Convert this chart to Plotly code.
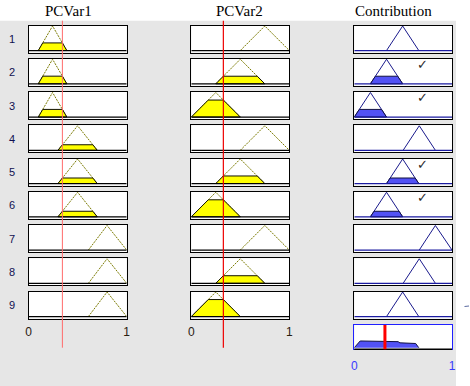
import numpy as np
import plotly.graph_objects as go

W, H = 470, 386

titles = ["PCVar1", "PCVar2", "Contribution"]
rule_labels = [str(i) for i in range(1, 10)]
input_values = [0.345, 0.327]

var1_mfs = {"low": [0.10, 0.245, 0.39], "mid": [0.30, 0.50, 0.70], "high": [0.61, 0.80, 1.00]}
var2_mfs = {"low": [0.00, 0.25, 0.50], "mid": [0.25, 0.50, 0.75], "high": [0.50, 0.75, 1.00]}
out_mfs = {"o1": [0.00, 0.165, 0.33], "o2": [0.165, 0.33, 0.495], "o3": [0.33, 0.495, 0.66],
           "o4": [0.50, 0.665, 0.83], "o5": [0.665, 0.83, 1.00]}

rule_var1 = ["low", "low", "low", "mid", "mid", "mid", "high", "high", "high"]
rule_var2 = ["high", "mid", "low", "high", "mid", "low", "high", "mid", "low"]
rule_out = ["o3", "o2", "o1", "o4", "o3", "o2", "o5", "o4", "o3"]
tick_vals = [0, 1]
tick_text = ["0", "1"]

# ---- styling / layout geometry (pixels) ----
cols_px = [(28.5, 126.7), (191.3, 289.3), (354.3, 452.0)]
row_top0, row_pitch, row_h = 25.5, 33.25, 27.0
agg_top, agg_bot = 325.0, 349.3
YR = [-0.08, 1.02]
YR_AGG = [-0.075, 1.05]


def trimf(x, p):
    a, b, c = p
    x = np.asarray(x, dtype=float)
    left = np.where(b > a, (x - a) / (b - a if b > a else 1), 1.0)
    right = np.where(c > b, (c - x) / (c - b if c > b else 1), 1.0)
    return np.clip(np.minimum(left, right), 0, 1)


def clipped_poly(p, mu):
    a, b, c = p
    xs = [a, a + mu * (b - a), c - mu * (c - b), c, a]
    ys = [0, mu, mu, 0, 0]
    return xs, ys


def xdom(c):
    return [cols_px[c][0] / W, cols_px[c][1] / W]


def ydom(top, bot):
    return [1 - bot / H, 1 - top / H]


def ax_name(k):
    return "" if k == 1 else str(k)


fig = go.Figure()
layout_axes = {}

mu1 = {k: float(trimf(input_values[0], v)) for k, v in var1_mfs.items()}
mu2 = {k: float(trimf(input_values[1], v)) for k, v in var2_mfs.items()}
firing = [min(mu1[a], mu2[b]) for a, b in zip(rule_var1, rule_var2)]

annotations = []
shapes = [
    dict(type="rect", xref="paper", yref="paper", x0=0, x1=1, y0=1 - 20.7 / H, y1=1,
         fillcolor="white", line=dict(width=0), layer="below"),
    dict(type="rect", xref="paper", yref="paper", x0=456 / W, x1=1, y0=0, y1=1,
         fillcolor="white", line=dict(width=0), layer="below"),
]

for r in range(9):
    top = row_top0 + row_pitch * r
    bot = top + row_h
    for c in range(3):
        k = r * 3 + c + 1
        xa, ya = "x" + ax_name(k), "y" + ax_name(k)
        show_ticks = (r == 8 and c < 2)
        layout_axes["xaxis" + ax_name(k)] = dict(
            domain=xdom(c), range=[0, 1], anchor=ya, showgrid=False, zeroline=False,
            showline=True, mirror=True, linecolor="black", linewidth=1, automargin=False,
            showticklabels=show_ticks, tickvals=tick_vals, ticktext=tick_text, ticks="",
            ticklabelstandoff=2,
            tickfont=dict(family="Liberation Sans, Arial", size=12, color="#2a2010"),
            fixedrange=True)
        layout_axes["yaxis" + ax_name(k)] = dict(
            domain=ydom(top, bot), range=YR, anchor=xa, showgrid=False, zeroline=False,
            showline=True, mirror=True, linecolor="black", linewidth=1, automargin=False,
            showticklabels=False, fixedrange=True)

        if c < 2:
            mfs = var1_mfs if c == 0 else var2_mfs
            name = rule_var1[r] if c == 0 else rule_var2[r]
            mu = (mu1 if c == 0 else mu2)[name]
            p = mfs[name]
            fig.add_trace(go.Scatter(x=[p[0], p[1], p[2]], y=[0, 1, 0], mode="lines",
                                     line=dict(color="#7a7a00", width=1, dash="2px,1px"),
                                     xaxis=xa, yaxis=ya, hoverinfo="skip"))
            if mu > 0:
                px_, py_ = clipped_poly(p, mu)
                fig.add_trace(go.Scatter(x=px_, y=py_, mode="lines", fill="toself",
                                         fillcolor="#ffff00", line=dict(color="#111100", width=1),
                                         xaxis=xa, yaxis=ya, hoverinfo="skip"))
            fig.add_trace(go.Scatter(x=[0, 1], y=[0, 0], mode="lines",
                                     line=dict(color="black", width=1.3),
                                     xaxis=xa, yaxis=ya, hoverinfo="skip"))
        else:
            p = out_mfs[rule_out[r]]
            mu = firing[r]
            fig.add_trace(go.Scatter(x=[p[0], p[1], p[2]], y=[0, 1, 0], mode="lines",
                                     line=dict(color="#1a1a8c", width=1),
                                     xaxis=xa, yaxis=ya, hoverinfo="skip"))
            if mu > 0:
                px_, py_ = clipped_poly(p, mu)
                fig.add_trace(go.Scatter(x=px_, y=py_, mode="lines", fill="toself",
                                         fillcolor="#5252f5", line=dict(color="#101040", width=1),
                                         xaxis=xa, yaxis=ya, hoverinfo="skip"))
                annotations.append(dict(x=0.7, y=0.78, xref=xa, yref=ya, text="✓",
                                        xanchor="center", yanchor="middle", showarrow=False,
                                        font=dict(family="DejaVu Sans", size=13, color="#2a2a2a")))
            fig.add_trace(go.Scatter(x=[0, 1], y=[0, 0], mode="lines",
                                     line=dict(color="#1a1aa0", width=1.3),
                                     xaxis=xa, yaxis=ya, hoverinfo="skip"))

    annotations.append(dict(x=11.5 / W, y=1 - (top + bot) / 2 / H, xref="paper", yref="paper",
                            text=rule_labels[r], showarrow=False, xanchor="center",
                            yanchor="middle",
                            font=dict(family="Liberation Sans, Arial", size=11, color="#101050")))

# aggregated output
xa, ya = "x28", "y28"
layout_axes["xaxis28"] = dict(domain=xdom(2), range=[0, 1], anchor=ya, showgrid=False,
                              zeroline=False, showline=True, mirror=True, linecolor="#2020ff",
                              linewidth=1, showticklabels=True, tickvals=tick_vals,
                              ticktext=tick_text, ticks="", ticklabelstandoff=5, automargin=False,
                              tickfont=dict(family="Liberation Sans, Arial", size=12, color="#3a3aff"),
                              fixedrange=True)
layout_axes["yaxis28"] = dict(domain=ydom(agg_top, agg_bot), range=YR_AGG, anchor=xa,
                              showgrid=False, zeroline=False, showline=True, mirror=True,
                              linecolor="#2020ff", linewidth=1, showticklabels=False,
                              automargin=False, fixedrange=True)
grid = np.linspace(0, 1, 1001)
agg = np.zeros_like(grid)
for r in range(9):
    if firing[r] > 0:
        agg = np.maximum(agg, np.minimum(trimf(grid, out_mfs[rule_out[r]]), firing[r]))
nz = np.nonzero(agg > 0)[0]
i0, i1 = max(nz[0] - 1, 0), min(nz[-1] + 1, len(grid) - 1)
fig.add_trace(go.Scatter(x=grid[i0:i1 + 1], y=agg[i0:i1 + 1], mode="lines", fill="tozeroy",
                         fillcolor="#5252f5", line=dict(color="#101040", width=1),
                         xaxis=xa, yaxis=ya, hoverinfo="skip"))
centroid = float(np.sum(grid * agg) / np.sum(agg))
shapes.append(dict(type="line", xref="x28 domain", yref="y28 domain", x0=0, x1=1, y0=0, y1=0,
                   line=dict(color="black", width=1.5)))
shapes.append(dict(type="line", xref=xa, yref="y28 domain", x0=centroid, x1=centroid, y0=0, y1=1,
                   line=dict(color="#ff0000", width=3)))

# input indicator lines
shapes.append(dict(type="line", xref="x", yref="paper", x0=input_values[0], x1=input_values[0],
                   y0=1 - 347.7 / H, y1=1 - 20.7 / H, line=dict(color="#ff6a6a", width=1)))
shapes.append(dict(type="line", xref="x2", yref="paper", x0=input_values[1], x1=input_values[1],
                   y0=1 - 347.7 / H, y1=1 - 20.7 / H, line=dict(color="#ee0000", width=1.2)))
# small stray mark at right
shapes.append(dict(type="line", xref="paper", yref="paper", x0=464.5 / W, x1=469 / W,
                   y0=1 - 306.5 / H, y1=1 - 306.0 / H, line=dict(color="#5a6aa0", width=1)))

title_x = [68, 239, 393]
for t, xc in zip(titles, title_x):
    annotations.append(dict(x=xc / W, y=1 - 11.5 / H, xref="paper", yref="paper", text=t,
                            showarrow=False, xanchor="center", yanchor="middle",
                            font=dict(family="Liberation Serif, Times New Roman", size=15,
                                      color="black")))

fig.update_layout(width=W, height=H, margin=dict(l=0, r=0, t=0, b=0),
                  paper_bgcolor="#e6e6e6", plot_bgcolor="white", showlegend=False,
                  annotations=annotations, shapes=shapes, **layout_axes)

fig.write_html("out.html", config={"displayModeBar": False},
               post_script="document.body.style.margin='0';document.body.style.padding='0';")
